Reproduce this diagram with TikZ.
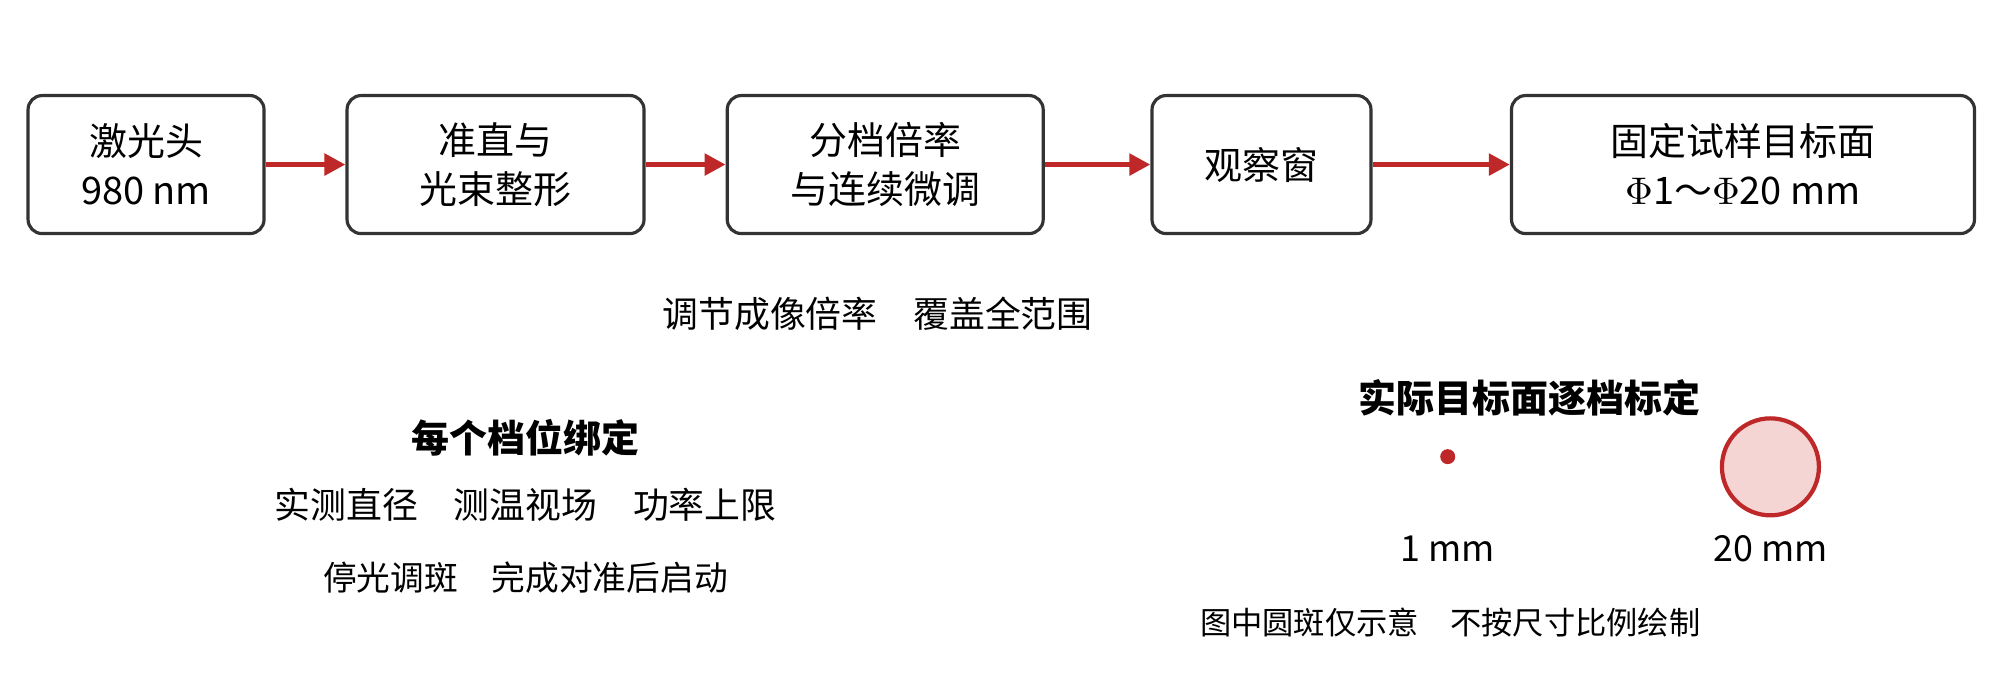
\documentclass[tikz,border=0pt]{standalone}
\usepackage{fontspec}
\setmainfont{Noto Sans CJK SC}
\usetikzlibrary{arrows.meta}
\definecolor{arr_red}{RGB}{190, 40, 40}
\definecolor{spot_fill}{RGB}{245, 212, 212}
\tikzstyle{bx}=[rectangle,rounded corners=4pt,draw=black!80,line width=0.9pt,
  align=center,minimum height=1.38cm,font=\fontsize{10.8}{14}\selectfont]
\tikzstyle{ln}=[draw=arr_red,line width=1.5pt,-{Triangle[length=6pt,width=6pt]}]
\tikzstyle{txt}=[align=center,font=\fontsize{10.2}{12}\selectfont]
\tikzstyle{hd}=[align=center,font=\fontsize{10.8}{12}\selectfont\bfseries]
\begin{document}
\begin{tikzpicture}[x=0.01276cm, y=-0.01276cm]
    \useasboundingbox (0, 0) rectangle (1568, 533);
    \node [style=bx, minimum width=2.36cm] (0) at (114.5, 129) {激光头\\980 nm};
    \node [style=bx, minimum width=2.97cm] (1) at (388.5, 129) {准直与\\光束整形};
    \node [style=bx, minimum width=3.16cm] (2) at (694, 129) {分档倍率\\与连续微调};
    \node [style=bx, minimum width=2.19cm] (3) at (989, 129) {观察窗};
    \node [style=bx, minimum width=4.63cm] (4) at (1366.5, 129) {固定试样目标面\\$\Phi$1～$\Phi$20 mm};
    \draw [style=ln] (0) to (1);
    \draw [style=ln] (1) to (2);
    \draw [style=ln] (2) to (3);
    \draw [style=ln] (3) to (4);
    \node [style=txt] (5) at (688, 246) {调节成像倍率　覆盖全范围};
    \node [style=hd] (6) at (412, 343) {每个档位绑定};
    \node [style=txt] (7) at (412, 396) {实测直径　测温视场　功率上限};
    \node [style=txt, font=\fontsize{9.6}{11}\selectfont] (8) at (412, 453) {停光调斑　完成对准后启动};
    \node [style=hd] (9) at (1199, 312) {实际目标面逐档标定};
    \node [circle, fill=arr_red, inner sep=0pt, minimum size=0.15cm] (10) at (1135, 358) {};
    \node [circle, fill=spot_fill, draw=arr_red, line width=1.2pt, inner sep=0pt, minimum size=0.97cm] (11) at (1388, 366) {};
    \node [style=txt] (12) at (1135, 430) {1 mm};
    \node [style=txt] (13) at (1388, 430) {20 mm};
    \node [style=txt, font=\fontsize{8.9}{11}\selectfont] (14) at (1137, 488) {图中圆斑仅示意　不按尺寸比例绘制};
\end{tikzpicture}
\end{document}
